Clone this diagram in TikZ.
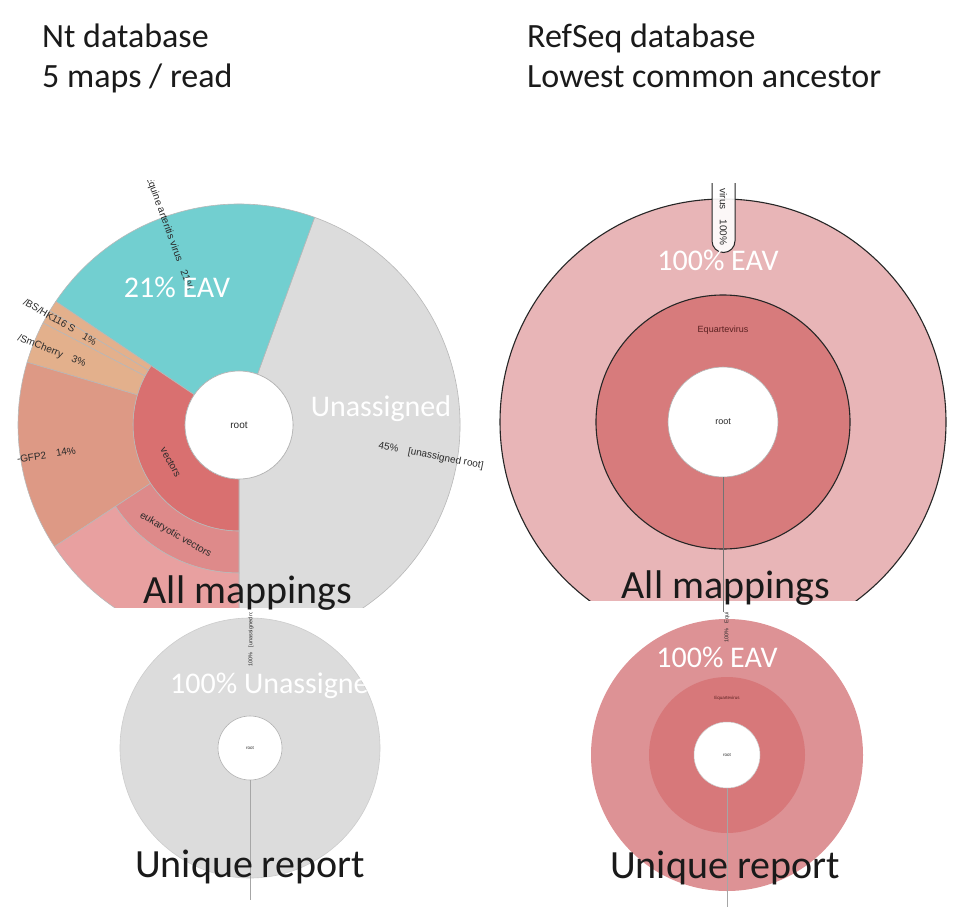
\documentclass[tikz,border=0pt]{standalone}
\usepackage{fontspec}
\setmainfont{Carlito}
\newfontfamily\labfont{Liberation Sans}
\definecolor{kcyan}{HTML}{72CFD0}
\definecolor{kgrey}{HTML}{DCDCDC}
\definecolor{kvec}{HTML}{D97070}
\definecolor{kgfp}{HTML}{DD9985}
\definecolor{ktan}{HTML}{E3B08C}
\definecolor{kpink}{HTML}{E8A0A0}
\definecolor{keuk}{HTML}{DE8A8A}
\definecolor{rout}{HTML}{E8B5B7}
\definecolor{rin}{HTML}{D77B7C}
\definecolor{bout}{HTML}{DD9295}
\definecolor{bin}{HTML}{D7787A}
\definecolor{ink}{HTML}{1A1A1A}
\definecolor{labink}{HTML}{2A2A2A}
\definecolor{equink}{HTML}{5A2020}
\newcommand\krw[5]{\path[#5] (#1:#3pt) arc[start angle=#1,end angle=#2,radius=#3pt] -- (#2:#4pt) arc[start angle=#2,end angle=#1,radius=#4pt] -- cycle;}
\tikzset{
  seg/.style={fill=#1, draw=black!28, line width=0.6pt},
  head/.style={inner sep=0pt, anchor=base west, text=ink, font=\fontsize{34}{40}\selectfont},
  big/.style={inner sep=0pt, anchor=base, text=ink, font=\fontsize{40}{48}\selectfont},
  wbig/.style={inner sep=0pt, anchor=base, text=white, font=\fontsize{30}{36}\selectfont},
  lbl/.style={inner sep=0pt, text=labink, font=\labfont\fontsize{10}{12}\selectfont},
  tiny/.style={inner sep=0pt, text=labink, font=\labfont\fontsize{5.5}{7}\selectfont},
  rootc/.style={fill=white, draw=black!30, line width=0.6pt},
  ring/.style={fill=#1, draw=black!85, line width=1.1pt},
  stem/.style={draw=black!55, line width=0.8pt}
}
\begin{document}
\begin{tikzpicture}[x=1pt,y=1pt]
\useasboundingbox (0,0) rectangle (961,-907);
\fill[white] (0,0) rectangle (961,-907);

% headings
\node[head] (h1) at (42,-48) {Nt database};
\node[head] (h2) at (42,-88) {5 maps / read};
\node[head] (h3) at (527,-48) {RefSeq database};
\node[head] (h4) at (527,-88) {Lowest common ancestor};

% ---------- top-left chart ----------
\begin{scope}
\clip (0,-180) rectangle (494,-607);
\begin{scope}[shift={(239,-425)}]
\krw{-90}{70}{54}{221}{seg=kgrey}
\krw{70}{146}{54}{221}{seg=kcyan}
\krw{146}{270}{54}{106}{seg=kvec}
\krw{146}{148.9}{106}{221}{seg=ktan}
\krw{148.9}{152.5}{106}{221}{seg=ktan}
\krw{152.5}{163.5}{106}{221}{seg=ktan}
\krw{163.5}{213.4}{106}{221}{seg=kgfp}
\krw{213.4}{270}{106}{148}{seg=keuk}
\krw{213.4}{270}{148}{221}{seg=kpink}
\path[rootc] (0,0) circle[radius=54pt];
\node[lbl, anchor=east, rotate=-70] (leav) at (110:144pt) {Equine arteritis virus\quad 21\%};
\node[lbl, anchor=east, rotate=-30] (lbs) at (150:165pt) {/BS/HK116 S\quad 1\%};
\node[lbl, anchor=east, rotate=-21.5] (lmch) at (158.5:165pt) {/SmCherry\quad 3\%};
\node[lbl, anchor=east, rotate=8.8] (lgfp) at (188.8:165pt) {-GFP2\quad 14\%};
\node[lbl, rotate=-61.3] (lvec) at (208.7:78pt) {vectors};
\node[lbl, rotate=-30] (leuk) at (240:127pt) {eukaryotic vectors};
\node[lbl] (lroot) at (0,0) {root};
\end{scope}
\node[lbl, rotate=-11] (lun) at (431,-456) {45\%\quad [unassigned root]};
\end{scope}
\node[wbig] (eav21) at (177,-297) {21\% EAV};
\node[wbig] (unas) at (381,-416) {Unassigned};

% ---------- top-right chart ----------
\begin{scope}
\clip (496,-180) rectangle (961,-600);
\begin{scope}[shift={(723,-422)}]
\path[ring=rout] (0,0) circle[radius=223pt];
\path[ring=rin] (0,0) circle[radius=127pt];
\path[rootc] (0,0) circle[radius=55pt];
\node[lbl, text=equink, font=\labfont\fontsize{9}{11}\selectfont] (requ) at (0,92) {Equartevirus};
\node[lbl, font=\labfont\fontsize{9}{11}\selectfont] (rroot) at (0,0) {root};
\end{scope}
\end{scope}
\coordinate (rbot) at (723,-612);
\draw[stem] (rroot.center) ++(0,-55) -- (rbot);
\path[fill=white, fill opacity=0.9, draw=black!85, line width=1pt]
  (712,-183) -- (712,-241) arc[start angle=180,end angle=360,radius=11.5pt] -- (735,-183);
\node[lbl, rotate=-90] (rtab) at (723.5,-217) {virus\quad 100\%};
\node[wbig] (eav100a) at (718,-270) {100\% EAV};

\node[big] (am1) at (248,-603) {All mappings};
\node[big] (am2) at (726,-598) {All mappings};

% ---------- bottom-left chart ----------
\begin{scope}[shift={(250,-748)}]
\path[fill=kgrey, draw=black!20, line width=0.6pt] (0,0) circle[radius=130pt];
\path[rootc] (0,0) circle[radius=32pt];
\node[tiny, font=\labfont\fontsize{4.5}{6}\selectfont] (blroot) at (0,0) {root};
\end{scope}
\coordinate (blbot) at (250,-900);
\draw[draw=black!35, line width=0.7pt] (250,-780) -- (blbot);
\begin{scope}
\clip (200,-612) rectangle (300,-700);
\node[tiny, anchor=west, rotate=90] (bllab) at (251,-667) {100\%\quad [unassigned root]};
\end{scope}
\node[wbig, anchor=base west] (un100) at (170,-693) {100\% Unassigned};
\node[big] (ur1) at (250,-877) {Unique report};

% ---------- bottom-right chart ----------
\begin{scope}[shift={(727,-755)}]
\path[fill=bout] (0,0) circle[radius=136pt];
\path[fill=bin] (0,0) circle[radius=78pt];
\path[fill=white, draw=black!20, line width=0.5pt] (0,0) circle[radius=33pt];
\node[tiny, text=equink, font=\labfont\fontsize{4.5}{6}\selectfont] (brequ) at (0,57) {Equartevirus};
\node[tiny, font=\labfont\fontsize{4.5}{6}\selectfont] (brroot) at (0,0) {root};
\end{scope}
\coordinate (brbot) at (727,-907);
\draw[draw=black!35, line width=0.7pt] (727,-788) -- (brbot);
\begin{scope}
\clip (680,-612) rectangle (780,-700);
\node[tiny, anchor=west, rotate=90] (brlab) at (727,-643) {100\%\quad Equine arteritis virus};
\end{scope}
\node[wbig] (eav100b) at (717,-667) {100\% EAV};
\node[big] (ur2) at (725,-878) {Unique report};
\end{tikzpicture}
\end{document}
